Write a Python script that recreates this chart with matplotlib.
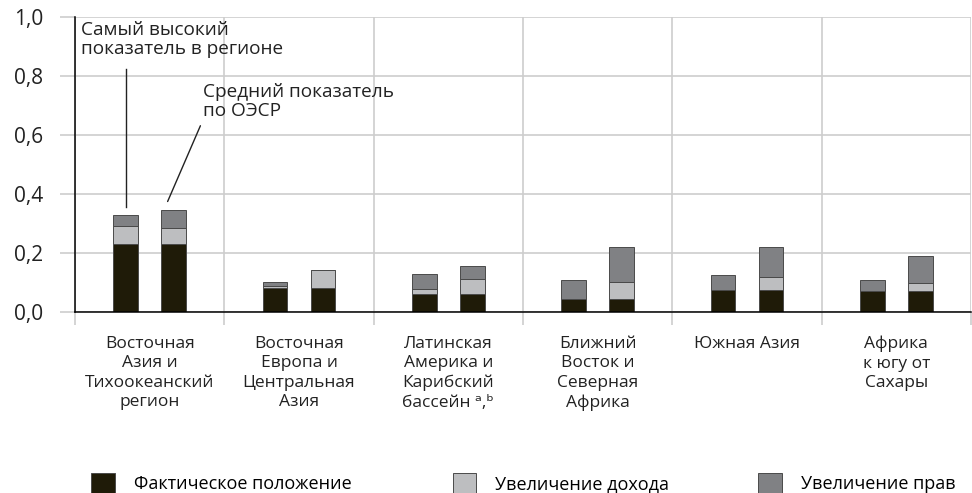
import matplotlib.pyplot as plt
import numpy as np

plt.rcParams['font.family'] = ['Open Sans', 'DejaVu Sans']

regions = [
    'Восточная\nАзия и\nТихоокеанский\nрегион',
    'Восточная\nЕвропа и\nЦентральная\nАзия',
    'Латинская\nАмерика и\nКарибский\nбассейн ᵃ,ᵇ',
    'Ближний\nВосток и\nСеверная\nАфрика',
    'Южная Азия',
    'Африка\nк югу от\nСахары',
]

# actual position is shared by both bars of a region
actual = [0.231, 0.081, 0.060, 0.044, 0.076, 0.070]
# bar 1: highest value in the region
best_income = [0.061, 0.007, 0.017, 0.0, 0.0, 0.0]
best_rights = [0.037, 0.014, 0.053, 0.064, 0.048, 0.038]
# bar 2: OECD average
oecd_income = [0.053, 0.060, 0.052, 0.058, 0.041, 0.027]
oecd_rights = [0.060, 0.0, 0.043, 0.117, 0.102, 0.091]

legend_labels = ['Фактическое положение', 'Увеличение дохода', 'Увеличение прав']
ytick_labels = ['0,0', '0,2', '0,4', '0,6', '0,8', '1,0']

col_actual = '#1f1b08'
col_income = '#bdbec0'
col_rights = '#808184'
col_edge = '#4a4a4a'
col_grid = '#cdcdcd'
col_text = '#222222'

fig = plt.figure(figsize=(9.72, 4.93), dpi=100)
ax = fig.add_axes([0.0772, 0.3671, 0.9218, 0.5994])

n = len(regions)
centers = np.arange(n) + 0.5
offset = 0.16
width = 0.165

actual = np.array(actual)
for k, (inc, rig) in enumerate([(best_income, best_rights), (oecd_income, oecd_rights)]):
    xs = centers - offset if k == 0 else centers + offset
    inc = np.array(inc)
    rig = np.array(rig)
    b1 = ax.bar(xs, actual, width, color=col_actual, edgecolor=col_edge, linewidth=0.7, zorder=3)
    b2 = ax.bar(xs, inc, width, bottom=actual, color=col_income, edgecolor=col_edge, linewidth=0.7, zorder=3)
    b3 = ax.bar(xs, rig, width, bottom=actual + inc, color=col_rights, edgecolor=col_edge, linewidth=0.7, zorder=3)

ax.set_xlim(0, n)
ax.set_ylim(0, 1.0)

ax.set_yticks(np.arange(0, 1.01, 0.2))
ax.set_yticklabels(ytick_labels, fontsize=15, color=col_text)
ax.tick_params(axis='y', length=11, width=1.2, color=col_grid, pad=12)

ax.set_xticks(np.arange(n + 1))
ax.set_xticklabels([])
ax.tick_params(axis='x', which='major', length=9.5, width=1.2, color=col_grid)
ax.set_xticks(centers, minor=True)
ax.set_xticklabels(regions, minor=True, fontsize=12.5, color=col_text, linespacing=1.3)
ax.tick_params(axis='x', which='minor', length=0, pad=17)

ax.grid(True, color=col_grid, linewidth=1.2, zorder=0)
ax.set_axisbelow(True)

for side in ['top', 'right']:
    ax.spines[side].set_visible(False)
for side in ['left', 'bottom']:
    ax.spines[side].set_linewidth(1.1)
    ax.spines[side].set_zorder(4)

# callouts for the two bars of the first region
top_best = actual[0] + best_income[0] + best_rights[0]
top_oecd = actual[0] + oecd_income[0] + oecd_rights[0]
ax.text(0.04, 0.985, 'Самый высокий\nпоказатель в регионе', ha='left', va='top',
        fontsize=13.7, color=col_text, linespacing=1.1)
ax.plot([centers[0] - offset] * 2, [0.823, top_best + 0.025], color=col_text, lw=1.0)
ax.annotate('Средний показатель\nпо ОЭСР',
            xy=(centers[0] + offset - 0.04, top_oecd + 0.03), xytext=(0.855, 0.775),
            ha='left', va='top', fontsize=13.7, color=col_text, linespacing=1.1,
            arrowprops=dict(arrowstyle='-', color=col_text, lw=1.0,
                            shrinkA=2, shrinkB=0, relpos=(0.0, 0.0)))

# one legend entry per slot along the bottom
handles = [b1, b2, b3]
for h, lab, x0 in zip(handles, legend_labels, [0.094, 0.466, 0.780]):
    fig.legend([h], [lab], loc='lower left', bbox_to_anchor=(x0, 0.0),
               frameon=False, fontsize=13, handlelength=1.3, handleheight=1.3,
               handletextpad=1.05, borderpad=0, borderaxespad=0)

fig.savefig('out.png', dpi=100, facecolor='white')
